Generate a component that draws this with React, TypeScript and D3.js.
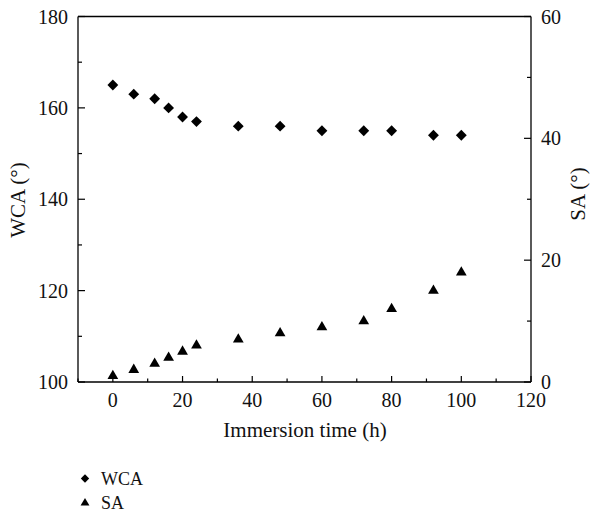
import React from 'react';
import * as d3 from 'd3';

// immersion time (h)
const times = [0, 6, 12, 16, 20, 24, 36, 48, 60, 72, 80, 92, 100];
// water contact angle (deg), left axis
const wca = [165, 163, 162, 160, 158, 157, 156, 156, 155, 155, 155, 154, 154];
// sliding angle (deg), right axis
const sa = [1, 2, 3, 4, 5, 6, 7, 8, 9, 10, 12, 15, 18];

const xTicks = [0, 20, 40, 60, 80, 100, 120];
const xMinor = [-10, 10, 30, 50, 70, 90, 110];
const leftTicks = [100, 120, 140, 160, 180];
const leftMinor = [110, 130, 150, 170];
const rightTicks = [0, 20, 40, 60];
const rightMinor = [10, 30, 50];

const W = 590;
const H = 513;
const font = "'Liberation Serif', 'DejaVu Serif', serif";

const App = () => {
  // plot box
  const left = 78;
  const right = 531;
  const top = 16.5;
  const bottom = 382;

  const x = d3.scaleLinear().domain([-10, 120]).range([left, right]);
  const yL = d3.scaleLinear().domain([100, 180]).range([bottom, top]);
  const yR = d3.scaleLinear().domain([0, 60]).range([bottom, top]);

  const diamond = d3.symbol().type(d3.symbolDiamond2).size(75)();
  const triangle = d3.symbol().type(d3.symbolTriangle).size(50)();
  const legDiamond = d3.symbol().type(d3.symbolDiamond2).size(45)();
  const legTriangle = d3.symbol().type(d3.symbolTriangle).size(34)();

  return (
    <svg
      width={W}
      height={H}
      style={{ position: 'absolute', left: 0, top: 0, background: '#fff', fontFamily: font }}
    >
      {/* frame: left, bottom, right, top */}
      <g stroke="#000" strokeWidth={1.3} fill="none">
        <line x1={left} x2={left} y1={top} y2={bottom} />
        <line x1={left} x2={right} y1={bottom} y2={bottom} />
        <line x1={right} x2={right} y1={top} y2={bottom} />
        <line x1={left} x2={right} y1={top} y2={top} />
      </g>

      {/* ticks, all pointing inward */}
      <g stroke="#000" strokeWidth={1.2}>
        {xTicks.map((t) => (
          <line key={'xt' + t} x1={x(t)} x2={x(t)} y1={bottom} y2={bottom - 6} />
        ))}
        {xMinor.map((t) => (
          <line key={'xm' + t} x1={x(t)} x2={x(t)} y1={bottom} y2={bottom - 3.5} />
        ))}
        {leftTicks.map((t) => (
          <line key={'lt' + t} x1={left} x2={left + 7} y1={yL(t)} y2={yL(t)} />
        ))}
        {leftMinor.map((t) => (
          <line key={'lm' + t} x1={left} x2={left + 4} y1={yL(t)} y2={yL(t)} />
        ))}
        {rightTicks.map((t) => (
          <line key={'rt' + t} x1={right} x2={right - 7} y1={yR(t)} y2={yR(t)} />
        ))}
        {rightMinor.map((t) => (
          <line key={'rm' + t} x1={right} x2={right - 4} y1={yR(t)} y2={yR(t)} />
        ))}
      </g>

      {/* tick labels */}
      <g fontSize={20} fill="#111">
        {xTicks.map((t) => (
          <text key={'xl' + t} x={x(t)} y={407} textAnchor="middle">
            {t}
          </text>
        ))}
        {leftTicks.map((t) => (
          <text key={'ll' + t} x={68} y={yL(t)} dy="0.35em" textAnchor="end">
            {t}
          </text>
        ))}
        {rightTicks.map((t) => (
          <text key={'rl' + t} x={541} y={yR(t)} dy="0.35em" textAnchor="start">
            {t}
          </text>
        ))}
      </g>

      {/* axis titles */}
      <g fontSize={21} fill="#111">
        <text x={305} y={437} textAnchor="middle">
          Immersion time (h)
        </text>
        <text transform="translate(25,200) rotate(-90)" textAnchor="middle">
          WCA (°)
        </text>
        <text transform="translate(585,194) rotate(-90)" textAnchor="middle">
          SA (°)
        </text>
      </g>

      {/* WCA points */}
      <g fill="#000">
        {times.map((t, i) => (
          <path key={'w' + i} d={diamond} transform={`translate(${x(t)},${yL(wca[i])})`} />
        ))}
      </g>

      {/* SA points */}
      <g fill="#000">
        {times.map((t, i) => (
          <path key={'s' + i} d={triangle} transform={`translate(${x(t)},${yR(sa[i])})`} />
        ))}
      </g>

      {/* legend */}
      <g fontSize={18} fill="#111">
        <path d={legDiamond} transform="translate(85,478.5)" fill="#000" />
        <text x={101} y={485}>WCA</text>
        <path d={legTriangle} transform="translate(85,503)" fill="#000" />
        <text x={101} y={509}>SA</text>
      </g>
    </svg>
  );
};

export default App;
